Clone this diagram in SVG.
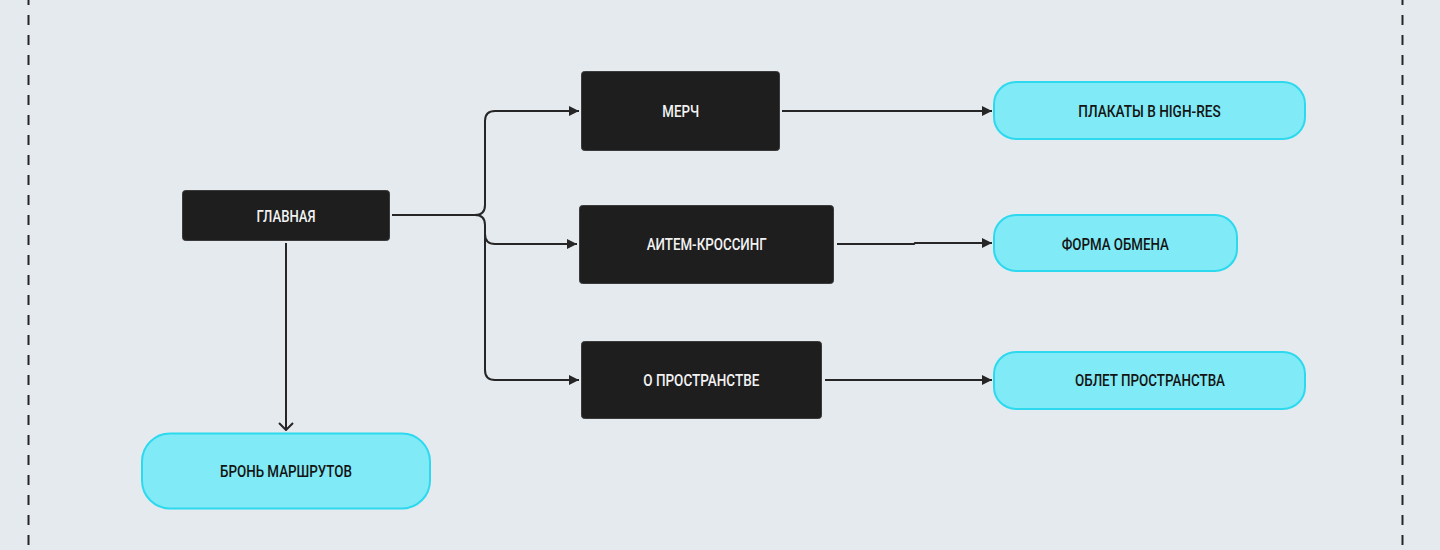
<svg xmlns="http://www.w3.org/2000/svg" width="1440" height="550" viewBox="0 0 1440 550">
  <style>
    .dark rect { fill: #1e1e1e; stroke: #3b3b3b; stroke-width: 1; }
    .dark text { fill: #f2f2f2; }
    .pill rect { fill: #80ebf6; stroke: #2dd9ee; stroke-width: 2; }
    .pill text { fill: #141414; }
    text { font-family: "Roboto", "Noto Sans", sans-serif; font-size: 16px; font-weight: 500; text-anchor: middle; }
    .edge { fill: none; stroke: #262626; stroke-width: 2; }
    .border { fill: none; stroke: #262626; stroke-width: 2; stroke-dasharray: 10 10; stroke-dashoffset: 5; }
  </style>
  <defs>
    <marker id="tri" viewBox="0 0 10 10" refX="10" refY="5" markerWidth="10" markerHeight="10" markerUnits="userSpaceOnUse" orient="auto">
      <path d="M0,0 L10,5 L0,10 Z" fill="#262626"/>
    </marker>
    <marker id="open" viewBox="0 0 16 10" refX="8" refY="9" markerWidth="16" markerHeight="10" markerUnits="userSpaceOnUse" orient="0">
      <path d="M1,2 L8,9 L15,2" fill="none" stroke="#262626" stroke-width="2"/>
    </marker>
  </defs>

  <rect width="1440" height="550" fill="#e5eaef"/>
  <line class="border" x1="28.5" y1="0" x2="28.5" y2="550"/>
  <line class="border" x1="1402.5" y1="0" x2="1402.5" y2="550"/>

  <g id="connectors">
    <path class="edge" d="M392,215 H475 Q485,215 485,205 V121 Q485,111 495,111 H579" marker-end="url(#tri)"/>
    <path class="edge" d="M475,215 Q485,215 485,225 V234 Q485,244 495,244 H577" marker-end="url(#tri)"/>
    <path class="edge" d="M485,225 V370 Q485,380 495,380 H579" marker-end="url(#tri)"/>
    <path class="edge" d="M286,243 V430" marker-end="url(#open)"/>
    <path class="edge" d="M782,111 H992" marker-end="url(#tri)"/>
    <path class="edge" d="M837,244 H914 L915,243 H992" marker-end="url(#tri)"/>
    <path class="edge" d="M825,380 H992" marker-end="url(#tri)"/>
  </g>

  <g id="node-main" class="dark">
    <rect x="182.5" y="190.5" width="207" height="50" rx="3"/>
    <text x="286" y="221.5" textLength="59" lengthAdjust="spacingAndGlyphs">ГЛАВНАЯ</text>
  </g>
  <g id="node-merch" class="dark">
    <rect x="581.5" y="71.5" width="198" height="79" rx="3"/>
    <text x="680.7" y="116.8" textLength="36.7" lengthAdjust="spacingAndGlyphs">МЕРЧ</text>
  </g>
  <g id="node-crossing" class="dark">
    <rect x="579.5" y="205.5" width="254" height="78" rx="3"/>
    <text x="706.7" y="250" textLength="120" lengthAdjust="spacingAndGlyphs">АИТЕМ-КРОССИНГ</text>
  </g>
  <g id="node-space" class="dark">
    <rect x="581.5" y="341.5" width="240" height="77" rx="3"/>
    <text x="701.3" y="385.8" textLength="116" lengthAdjust="spacingAndGlyphs">О ПРОСТРАНСТВЕ</text>
  </g>
  <g id="node-posters" class="pill">
    <rect x="994" y="82" width="311" height="57" rx="22"/>
    <text x="1149.5" y="116.5" textLength="142.3" lengthAdjust="spacingAndGlyphs">ПЛАКАТЫ В HIGH-RES</text>
  </g>
  <g id="node-exchange" class="pill">
    <rect x="994" y="215" width="243" height="56" rx="22"/>
    <text x="1115.3" y="249.5" textLength="107.3" lengthAdjust="spacingAndGlyphs">ФОРМА ОБМЕНА</text>
  </g>
  <g id="node-flyover" class="pill">
    <rect x="994" y="352" width="311" height="57" rx="22"/>
    <text x="1150" y="386" textLength="150" lengthAdjust="spacingAndGlyphs">ОБЛЕТ ПРОСТРАНСТВА</text>
  </g>
  <g id="node-booking" class="pill">
    <rect x="142" y="433.5" width="288" height="75" rx="28"/>
    <text x="286" y="476.5" textLength="132" lengthAdjust="spacingAndGlyphs">БРОНЬ МАРШРУТОВ</text>
  </g>
</svg>
